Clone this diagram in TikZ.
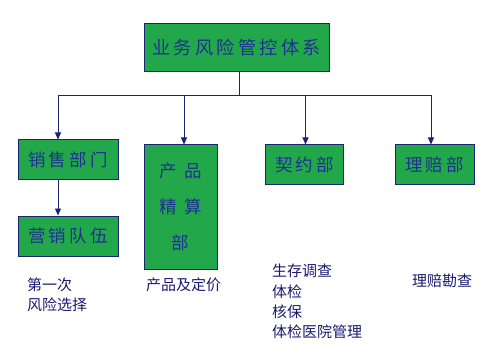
\documentclass[tikz,border=0pt]{standalone}
\usepackage{fontspec}
\setmainfont{Noto Sans CJK SC}
\newfontfamily\boxfont[LetterSpace=18]{Noto Sans CJK SC}
\usetikzlibrary{arrows.meta,positioning}
\definecolor{DeptGreen}{HTML}{22A84A}
\definecolor{Navy}{HTML}{1B2470}
\definecolor{BoxInk}{HTML}{1C3290}
\definecolor{NoteInk}{HTML}{1A1A6E}

\begin{document}
\begin{tikzpicture}[x=1pt,y=-1pt,
  dept/.style={draw=Navy,line width=1pt,fill=DeptGreen,text=BoxInk,font=\boxfont\fontsize{17.5}{18}\selectfont,inner sep=0pt},
  note/.style={anchor=west,align=left,text=NoteInk,font=\fontsize{15}{20.3}\selectfont,inner sep=0pt},
  arr/.style={-{Triangle[length=7pt,width=6pt]},draw=Navy,line width=0.9pt},
  bus/.style={draw=Navy,line width=0.9pt}
]
\useasboundingbox (0,0) rectangle (497,363);
\node[dept,minimum width=185,minimum height=48,font=\boxfont\fontsize{18.2}{20}\selectfont] (risk) at (236.5,48) {业务风险管控体系};
\node[dept,minimum width=100,minimum height=40] (sales) at (68,160) {销售部门};
\node[dept,minimum width=100,minimum height=40] (team) at (68,236) {营销队伍};
\node[dept,minimum width=73,minimum height=124,align=center,font=\fontsize{17.5}{36}\selectfont] (actuary) at (180.5,207) {产\hspace{7pt}品\\精\hspace{7pt}算\\部};
\node[dept,minimum width=78,minimum height=40] (contract) at (304.5,165) {契约部};
\node[dept,minimum width=79,minimum height=40] (claims) at (434.5,165) {理赔部};
\coordinate (hub) at (239,95);
\draw[bus] (risk.south -| hub) -- (hub);
\draw[arr] (hub) -| ([xshift=-10]sales.north);
\draw[arr] (hub) -| ([xshift=3.5]actuary.north);
\draw[arr] (hub) -| ([xshift=1]contract.north);
\draw[arr] (hub) -| ([xshift=-3.5]claims.north);
\draw[arr] ([xshift=-10]sales.south) -- ([xshift=-10]team.north);
% notes under the departments
\node[note] (salesnote) at (27,294.5) {第一次\\风险选择};
\node[note] (pricing) at (146,285) {产品及定价};
\node[note] (uw) at (272,301.5) {生存调查\\体检\\核保\\体检医院管理};
\node[note] (survey) at (412,281) {理赔勘查};
\end{tikzpicture}
\end{document}
